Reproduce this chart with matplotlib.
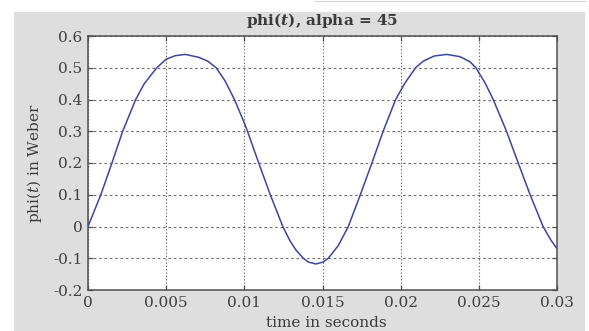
import matplotlib
matplotlib.use("Agg")
import matplotlib.pyplot as plt
from matplotlib.patches import Rectangle
from matplotlib.lines import Line2D

# values
t_vals = [0.0, 0.00082, 0.00153, 0.00222, 0.00305, 0.00360, 0.00440, 0.00500,
          0.00558, 0.00622, 0.00707, 0.00765, 0.00820, 0.00875, 0.00937, 0.01000,
          0.01020, 0.01092, 0.01166, 0.01246, 0.01293, 0.01330, 0.01377, 0.01410,
          0.01457, 0.01504, 0.01537, 0.01601, 0.01665, 0.01742, 0.01816, 0.01888,
          0.01968, 0.02025, 0.02095, 0.02145, 0.02215, 0.02294, 0.02379, 0.02443,
          0.02481, 0.02539, 0.02592, 0.02677, 0.02752, 0.02828, 0.02911, 0.02960,
          0.03000]
phi_vals = [0.0, 0.100, 0.200, 0.300, 0.400, 0.450, 0.500, 0.527,
            0.538, 0.542, 0.533, 0.521, 0.500, 0.460, 0.400, 0.326,
            0.300, 0.200, 0.100, 0.000, -0.046, -0.074, -0.100, -0.112,
            -0.118, -0.112, -0.100, -0.060, 0.000, 0.100, 0.200, 0.300,
            0.400, 0.450, 0.500, 0.521, 0.537, 0.542, 0.535, 0.519,
            0.500, 0.453, 0.400, 0.300, 0.200, 0.100, 0.000, -0.042,
            -0.070]

x_ticks = [0, 0.005, 0.01, 0.015, 0.02, 0.025, 0.03]
x_labels = ['0', '0.005', '0.01', '0.015', '0.02', '0.025', '0.03']
y_ticks = [-0.2, -0.1, 0, 0.1, 0.2, 0.3, 0.4, 0.5, 0.6]
y_labels = ['-0.2', '-0.1', '0', '0.1', '0.2', '0.3', '0.4', '0.5', '0.6']

plt.rcParams['font.family'] = ['DejaVu Serif']
plt.rcParams['mathtext.fontset'] = 'custom'
plt.rcParams['mathtext.rm'] = 'DejaVu Serif'
plt.rcParams['mathtext.it'] = 'DejaVu Serif:italic'
plt.rcParams['mathtext.bf'] = 'DejaVu Serif:bold'
plt.rcParams['mathtext.bfit'] = 'DejaVu Serif:italic:bold'

W, H = 589, 331
fig = plt.figure(figsize=(W / 100, H / 100), dpi=100)
fig.patch.set_facecolor('white')

# grey panel behind the plot
fig.patches.append(Rectangle((14 / W, 0), (585 - 14) / W, (H - 12) / H,
                             transform=fig.transFigure, facecolor='#dedede',
                             edgecolor='none', zorder=-5))
fig.lines.append(Line2D([315 / W, 585 / W], [1 - 0.8 / H, 1 - 0.8 / H],
                        transform=fig.transFigure, color='#d4d4d4', lw=0.8,
                        zorder=-5))

ax = fig.add_axes([88 / W, (H - 290) / H, (557 - 88) / W, (290 - 36) / H])
ax.set_facecolor('white')

ax.plot(t_vals, phi_vals, color='#3c46a0', lw=1.1, zorder=3,
        solid_joinstyle='round')

ax.set_xlim(0, 0.03)
ax.set_ylim(-0.2, 0.6)
ax.set_xticks(x_ticks)
ax.set_xticklabels(x_labels)
ax.set_yticks(y_ticks)
ax.set_yticklabels(y_labels)

ax.tick_params(direction='in', length=3.5, width=0.9, color='#505050',
               top=True, right=True, labelsize=11, labelcolor='#404040')
ax.tick_params(axis='x', pad=4.5)
ax.tick_params(axis='y', pad=4.0)

for sp in ax.spines.values():
    sp.set_color('#505050')
    sp.set_linewidth(1.1)

ax.xaxis.grid(True, color='#6a6a6a', lw=0.8, linestyle=(0, (1.2, 1.8)))
ax.yaxis.grid(True, color='#6a6a6a', lw=0.8, linestyle=(0, (2.2, 2.6)))
ax.set_axisbelow(True)

cx = (88 + 557) / 2 / W
fig.text(cx, 1 - 20 / H, r'phi($\mathbfit{t}$), alpha = 45', ha='center', va='center',
         fontsize=11, fontweight='bold', color='#3a3a3a')
fig.text(34 / W, 1 - 163 / H, r'phi($\it{t}$) in Weber', rotation=90,
         ha='center', va='center', fontsize=11, color='#3a3a3a')
fig.text(326 / W, 0.8 / H, 'time in seconds', ha='center', va='bottom',
         fontsize=11, color='#3a3a3a')

fig.savefig('out.png', dpi=100)
